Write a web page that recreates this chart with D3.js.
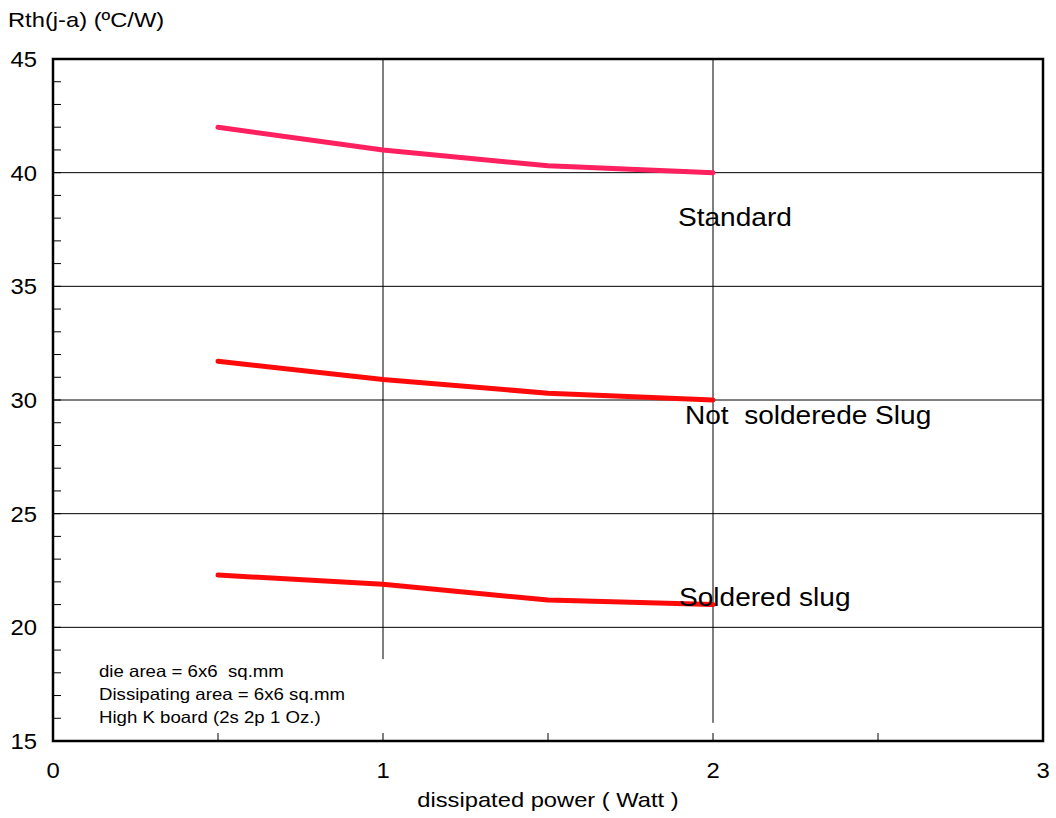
<!DOCTYPE html>
<html>
<head>
<meta charset="utf-8">
<script src="https://cdn.jsdelivr.net/npm/d3@7"></script>
<style>
  body { margin: 0; background: #fff; }
  text { font-family: "Liberation Sans", Arial, sans-serif; fill: #000; white-space: pre; }
</style>
</head>
<body>
<svg id="chart" width="1056" height="818"></svg>
<script>
// data
const powers = [0.5, 1, 1.5, 2];
const standard = [42.0, 41.0, 40.3, 40.0];
const notSoldered = [31.7, 30.9, 30.3, 30.0];
const soldered = [22.3, 21.9, 21.2, 21.0];
const seriesNames = ["Standard", "Not  solderede Slug", "Soldered slug"];
const seriesColors = ["#ff2060", "#ff0a0a", "#ff0a0a"];
const xTicks = [0, 1, 2, 3];
const yTicks = [15, 20, 25, 30, 35, 40, 45];
const notes = ["die area = 6x6  sq.mm", "Dissipating area = 6x6 sq.mm", "High K board (2s 2p 1 Oz.)"];

const margin = {left: 53, right: 13, top: 59, bottom: 77};
const width = 1056, height = 818;

const svg = d3.select("#chart");

const x = d3.scaleLinear().domain([0, 3]).range([margin.left, width - margin.right]);
const y = d3.scaleLinear().domain([15, 45]).range([height - margin.bottom, margin.top]);

// the original lettering is a bit wider than Arial, so stretch it
function at(px, py, sx) {
  return `translate(${px},${py}) scale(${sx},1)`;
}

// horizontal grid
svg.append("g")
  .selectAll("line")
  .data(yTicks.slice(1, -1))
  .enter().append("line")
  .attr("x1", x(0)).attr("x2", x(3))
  .attr("y1", d => y(d)).attr("y2", d => y(d))
  .attr("stroke", "#000").attr("stroke-width", 1);

// vertical grid (the one at 1 stops above the note box)
svg.append("g")
  .selectAll("line")
  .data([1, 2])
  .enter().append("line")
  .attr("x1", d => x(d)).attr("x2", d => x(d))
  .attr("y1", y(45))
  .attr("y2", d => d === 1 ? y(18.6) : y(15.8))
  .attr("stroke", "#000").attr("stroke-width", 1);

// minor ticks on y (inward)
svg.append("g")
  .selectAll("line")
  .data(d3.range(16, 45))
  .enter().append("line")
  .attr("x1", x(0)).attr("x2", x(0) + 8)
  .attr("y1", d => y(d)).attr("y2", d => y(d))
  .attr("stroke", "#000").attr("stroke-width", 1);

// ticks on x (inward from bottom)
svg.append("g")
  .selectAll("line")
  .data([0.5, 1, 1.5, 2, 2.5])
  .enter().append("line")
  .attr("x1", d => x(d)).attr("x2", d => x(d))
  .attr("y1", y(15)).attr("y2", y(15) - 8)
  .attr("stroke", "#000").attr("stroke-width", 1);

// frame
svg.append("rect")
  .attr("x", x(0)).attr("y", y(45))
  .attr("width", x(3) - x(0)).attr("height", y(15) - y(45))
  .attr("fill", "none").attr("stroke", "#000").attr("stroke-width", 2.5);

// tick labels
svg.append("g")
  .selectAll("text")
  .data(yTicks)
  .enter().append("text")
  .attr("transform", d => at(x(0) - 16, y(d), 1.06))
  .attr("dy", "0.36em")
  .attr("text-anchor", "end")
  .attr("font-size", 22.5)
  .text(d => d);

svg.append("g")
  .selectAll("text")
  .data(xTicks)
  .enter().append("text")
  .attr("transform", d => at(x(d), y(15) + 37, 1.06))
  .attr("text-anchor", "middle")
  .attr("font-size", 22.5)
  .text(d => d);

// axis titles
svg.append("text")
  .attr("transform", at(8, 27, 1.13))
  .attr("font-size", 21)
  .text("Rth(j-a) (ºC/W)");

svg.append("text")
  .attr("transform", at(548, 807, 1.13))
  .attr("text-anchor", "middle")
  .attr("font-size", 21)
  .text("dissipated power ( Watt )");

// series lines
const line = d3.line()
  .x((d, i) => x(powers[i]))
  .y(d => y(d));

const allSeries = [standard, notSoldered, soldered];
svg.append("g")
  .selectAll("path")
  .data(allSeries)
  .enter().append("path")
  .attr("d", d => line(d))
  .attr("fill", "none")
  .attr("stroke", (d, i) => seriesColors[i])
  .attr("stroke-width", 5)
  .attr("stroke-linecap", "round")
  .attr("stroke-linejoin", "round");

// series labels
const labelPos = [
  {px: 1.894, val: 37.65},
  {px: 1.915, val: 28.94},
  {px: 1.897, val: 20.93}
];
svg.append("g")
  .selectAll("text")
  .data(seriesNames)
  .enter().append("text")
  .attr("transform", (d, i) => at(x(labelPos[i].px), y(labelPos[i].val), 1.1))
  .attr("font-size", 25.5)
  .text(d => d);

// note box
svg.append("g")
  .selectAll("text")
  .data(notes)
  .enter().append("text")
  .attr("transform", (d, i) => at(99, 677 + i * 23, 1.13))
  .attr("font-size", 16.5)
  .text(d => d);
</script>
</body>
</html>
